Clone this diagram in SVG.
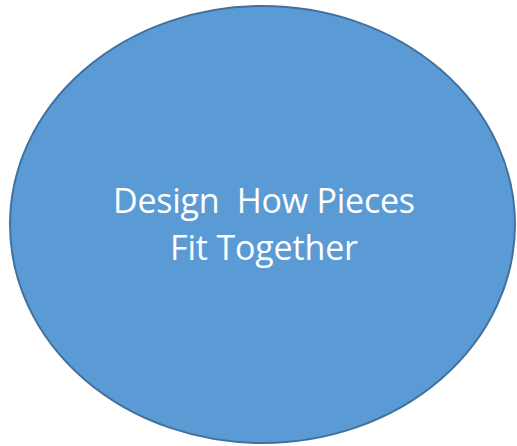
<svg xmlns="http://www.w3.org/2000/svg" width="517" height="446" viewBox="0 0 517 446">
<style>
.shape{fill:#5B9BD5;stroke:#41719C;stroke-width:2}
.lbl{font-family:"Open Sans","Liberation Sans",sans-serif;font-size:34px;fill:#FFFFFF;text-anchor:middle;white-space:pre}
</style>
<rect width="517" height="446" fill="#FFFFFF"/>
<g id="node-design">
<ellipse class="shape" cx="262.5" cy="224.5" rx="252.5" ry="218.5"/>
<text class="lbl" x="264" y="213" textLength="302" xml:space="preserve">Design  How Pieces</text>
<text class="lbl" x="264" y="260" textLength="188">Fit Together</text>
</g>
<g id="connectors"/>
</svg>
